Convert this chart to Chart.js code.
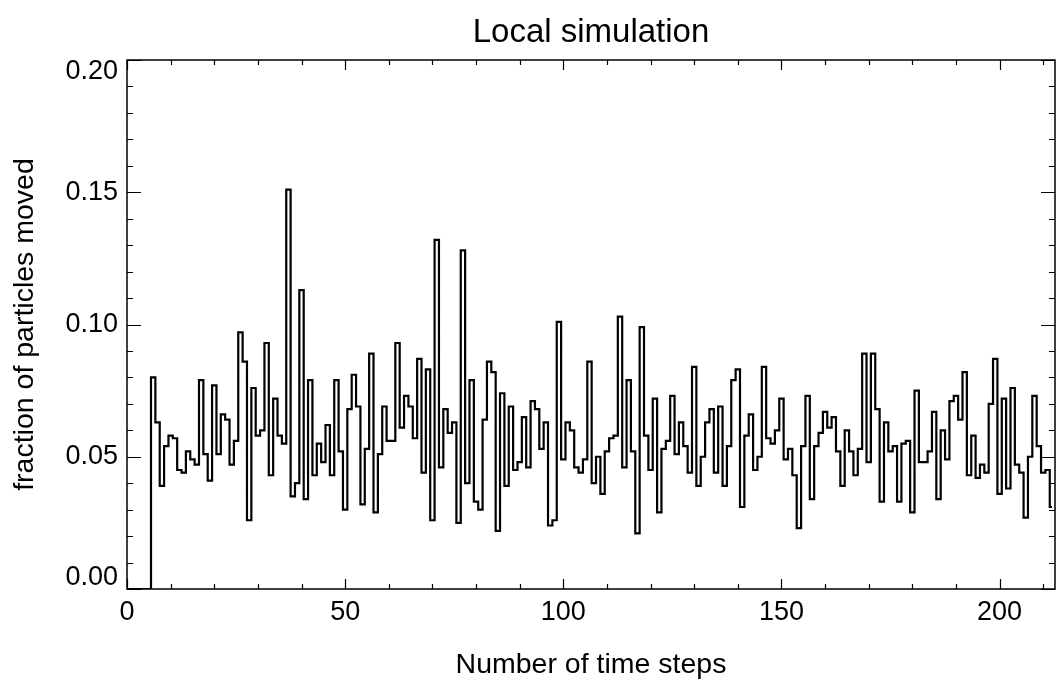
<!DOCTYPE html>
<html>
<head>
<meta charset="utf-8">
<script src="https://cdn.jsdelivr.net/npm/chart.js@4/dist/chart.umd.min.js"></script>
<style>
  html, body { margin: 0; padding: 0; background: #fff; }
  #wrap { width: 1056px; height: 686px; position: relative; }
</style>
</head>
<body>
<div id="wrap"><canvas id="c" width="1056" height="686"></canvas></div>
<script>
const chartTitle = "Local simulation";
const xTitle = "Number of time steps";
const yTitle = "fraction of particles moved";
const xTickValues = [0, 50, 100, 150, 200];
const xTickLabels = ["0", "50", "100", "150", "200"];
const yTickValues = [0, 0.05, 0.10, 0.15, 0.20];
const yTickLabels = ["0.00", "0.05", "0.10", "0.15", "0.20"];
const xMinorStep = 10;
const yMinorStep = 0.01;
const xMax = 212.7;
const yMax = 0.2;

// fraction of particles moved at each time step (index = time step)
const fractionMoved = [
  0, 0, 0, 0, 0, 0,
  0.080, 0.063, 0.039, 0.054, 0.058, 0.057, 0.045, 0.044, 0.052, 0.049,
  0.047, 0.079, 0.051, 0.041, 0.077, 0.051, 0.066, 0.064, 0.047, 0.056,
  0.097, 0.086, 0.026, 0.076, 0.058, 0.060, 0.093, 0.043, 0.072, 0.058,
  0.055, 0.151, 0.035, 0.040, 0.113, 0.034, 0.079, 0.043, 0.055, 0.048,
  0.062, 0.043, 0.079, 0.052, 0.030, 0.068, 0.081, 0.069, 0.032, 0.053,
  0.089, 0.029, 0.051, 0.069, 0.056, 0.056, 0.093, 0.061, 0.073, 0.069,
  0.057, 0.087, 0.044, 0.083, 0.026, 0.132, 0.046, 0.068, 0.059, 0.063,
  0.025, 0.128, 0.040, 0.079, 0.033, 0.030, 0.064, 0.086, 0.082, 0.022,
  0.074, 0.039, 0.069, 0.045, 0.048, 0.065, 0.046, 0.071, 0.068, 0.053,
  0.063, 0.024, 0.026, 0.101, 0.049, 0.063, 0.060, 0.046, 0.044, 0.049,
  0.086, 0.040, 0.050, 0.036, 0.052, 0.057, 0.058, 0.103, 0.046, 0.079,
  0.052, 0.021, 0.099, 0.058, 0.045, 0.072, 0.029, 0.053, 0.056, 0.073,
  0.051, 0.063, 0.054, 0.044, 0.084, 0.039, 0.050, 0.063, 0.068, 0.044,
  0.069, 0.039, 0.054, 0.079, 0.083, 0.031, 0.058, 0.066, 0.045, 0.050,
  0.084, 0.057, 0.055, 0.060, 0.072, 0.049, 0.053, 0.043, 0.023, 0.054,
  0.073, 0.034, 0.054, 0.059, 0.067, 0.061, 0.065, 0.052, 0.039, 0.060,
  0.052, 0.043, 0.053, 0.089, 0.048, 0.089, 0.068, 0.033, 0.063, 0.052,
  0.054, 0.033, 0.055, 0.056, 0.029, 0.075, 0.048, 0.048, 0.052, 0.067,
  0.034, 0.060, 0.049, 0.071, 0.073, 0.064, 0.082, 0.043, 0.058, 0.042,
  0.047, 0.044, 0.070, 0.087, 0.036, 0.072, 0.038, 0.076, 0.047, 0.044,
  0.027, 0.050, 0.073, 0.054, 0.044, 0.045, 0.031
];

const FONT = "'Liberation Sans', Arial, Helvetica, sans-serif";

const idlAxes = {
  id: 'idlAxes',
  afterDraw(chart) {
    const ctx = chart.ctx;
    const a = chart.chartArea;
    const xs = chart.scales.x, ys = chart.scales.y;
    ctx.save();
    ctx.strokeStyle = '#000';
    ctx.lineWidth = 1.5;
    ctx.strokeRect(a.left, a.top, a.right - a.left, a.bottom - a.top);
    ctx.lineWidth = 1.2;
    ctx.beginPath();
    for (let v = 0; v <= xMax + 1e-9; v += xMinorStep) {
      const px = Math.round(xs.getPixelForValue(v)) + 0.5;
      const major = xTickValues.some(t => Math.abs(t - v) < 1e-6);
      const len = major ? 10 : 5;
      ctx.moveTo(px, a.bottom); ctx.lineTo(px, a.bottom - len);
      ctx.moveTo(px, a.top); ctx.lineTo(px, a.top + len);
    }
    for (let k = 0; k <= Math.round(yMax / yMinorStep); k++) {
      const v = k * yMinorStep;
      const py = Math.round(ys.getPixelForValue(v)) + 0.5;
      const major = yTickValues.some(t => Math.abs(t - v) < 1e-9);
      const len = major ? 14 : 6;
      ctx.moveTo(a.left, py); ctx.lineTo(a.left + len, py);
      ctx.moveTo(a.right, py); ctx.lineTo(a.right - len, py);
    }
    ctx.stroke();

    ctx.fillStyle = '#000';
    ctx.font = '27px ' + FONT;
    ctx.textAlign = 'center';
    ctx.textBaseline = 'middle';
    xTickValues.forEach((v, i) => {
      ctx.fillText(xTickLabels[i], xs.getPixelForValue(v), a.bottom + 24);
    });
    ctx.textAlign = 'right';
    yTickValues.forEach((v, i) => {
      let py = ys.getPixelForValue(v);
      if (i === 0) py -= 11;
      if (i === yTickValues.length - 1) py += 12;
      ctx.fillText(yTickLabels[i], a.left - 9, py);
    });
    ctx.textAlign = 'center';
    ctx.font = '33px ' + FONT;
    ctx.fillText(chartTitle, (a.left + a.right) / 2, 33);
    ctx.font = '28.5px ' + FONT;
    ctx.fillText(xTitle, (a.left + a.right) / 2, 665);
    ctx.save();
    ctx.translate(25, (a.top + a.bottom) / 2);
    ctx.rotate(-Math.PI / 2);
    ctx.fillText(yTitle, 0, 0);
    ctx.restore();
    ctx.restore();
  }
};

new Chart(document.getElementById('c'), {
  type: 'line',
  data: {
    datasets: [{
      data: fractionMoved.map((v, i) => ({ x: i, y: v })),
      stepped: 'middle',
      borderColor: '#000',
      borderWidth: 2.2,
      pointRadius: 0,
      fill: false
    }]
  },
  options: {
    responsive: false,
    animation: false,
    events: [],
    layout: { padding: { top: 60, right: 1, left: 0, bottom: 0 } },
    plugins: { legend: { display: false }, tooltip: { enabled: false }, title: { display: false } },
    scales: {
      x: {
        type: 'linear', min: 0, max: xMax,
        grid: { display: false, drawTicks: false },
        border: { display: false },
        ticks: { display: false },
        afterBuildTicks: s => { s.ticks = xTickValues.map(v => ({ value: v })); },
        afterFit: s => { s.height = 97; }
      },
      y: {
        type: 'linear', min: 0, max: yMax,
        grid: { display: false, drawTicks: false },
        border: { display: false },
        ticks: { display: false },
        afterBuildTicks: s => { s.ticks = yTickValues.map(v => ({ value: v })); },
        afterFit: s => { s.width = 127; }
      }
    }
  },
  plugins: [idlAxes]
});
</script>
</body>
</html>
